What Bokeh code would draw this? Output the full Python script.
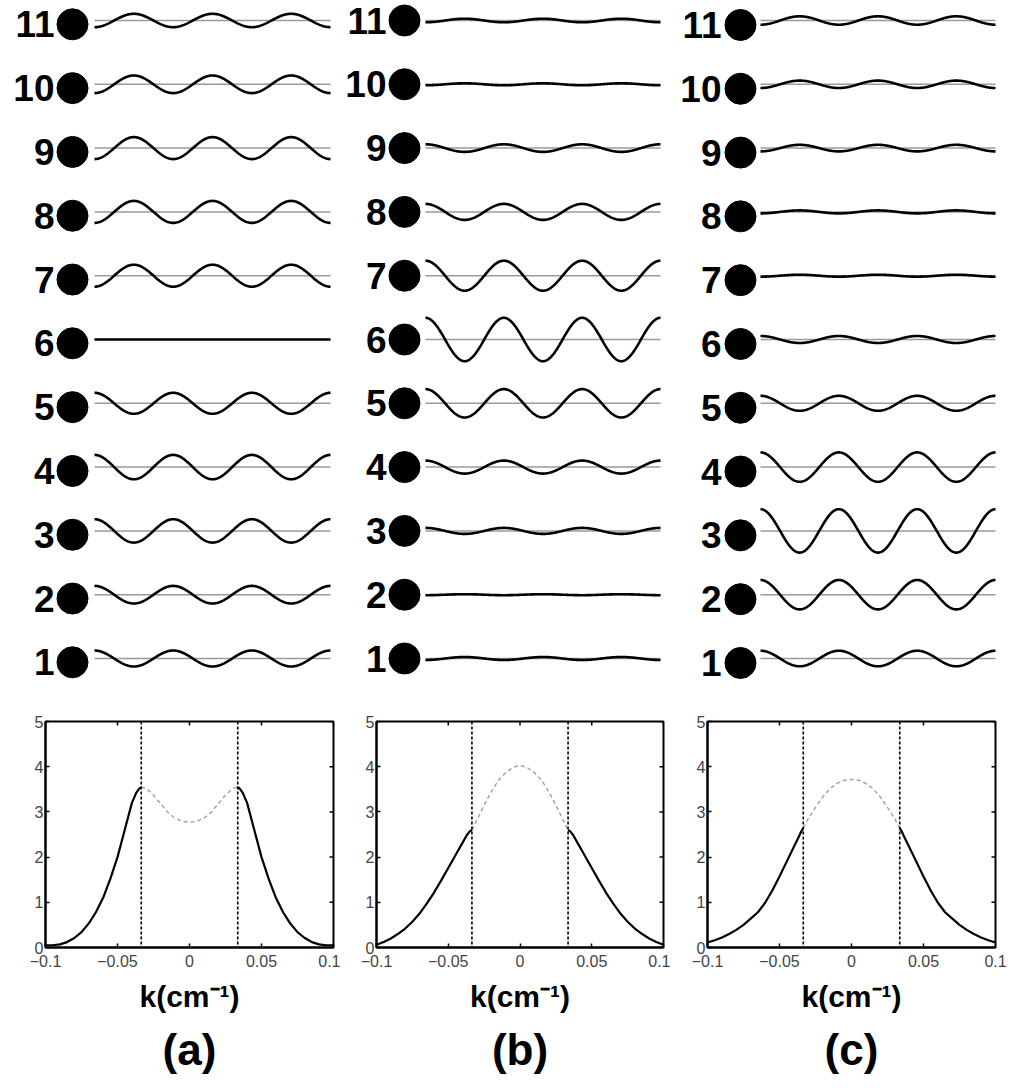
import numpy as np
from bokeh.plotting import figure
from bokeh.layouts import column, row
from bokeh.models import Range1d, Span, FixedTicker, Title
from bokeh.core.properties import value
from bokeh.embed import file_html
from bokeh.resources import INLINE

# ---------------- data ----------------
oscillators = [1, 2, 3, 4, 5, 6, 7, 8, 9, 10, 11]
# signed oscillation amplitudes per oscillator (+ : starts at a crest)
amp_a = [8.0, 8.8, 11.7, 12.2, 10.5, 0.0, -11.0, -11.0, -11.0, -8.8, -6.7]
amp_b = [-1.5, -0.5, 3.0, 6.5, 14.2, 21.7, 15.0, 8.0, 3.8, -1.0, -1.8]
amp_c = [7.8, 14.7, 21.7, 14.7, 7.5, 3.5, -1.0, -1.5, -3.3, -3.7, -4.2]
n_periods = 3

k_grid = [-0.1, -0.095, -0.09, -0.085, -0.08, -0.075, -0.07, -0.065, -0.06,
          -0.055, -0.05, -0.045, -0.04, -0.037, -0.035, -0.0335, -0.03, -0.025,
          -0.02, -0.015, -0.01, -0.005, 0.0, 0.005, 0.01, 0.015, 0.02, 0.025,
          0.03, 0.0335, 0.035, 0.037, 0.04, 0.045, 0.05, 0.055, 0.06, 0.065,
          0.07, 0.075, 0.08, 0.085, 0.09, 0.095, 0.1]
spec_a = [0.05, 0.05, 0.07, 0.12, 0.21, 0.34, 0.53, 0.78, 1.10, 1.52, 2.00,
          2.60, 3.20, 3.42, 3.51, 3.55, 3.52, 3.37, 3.18, 2.99, 2.86, 2.79,
          2.77, 2.79, 2.86, 2.99, 3.18, 3.37, 3.52, 3.55, 3.51, 3.42, 3.20,
          2.60, 2.00, 1.52, 1.10, 0.78, 0.53, 0.34, 0.21, 0.12, 0.07, 0.05, 0.05]
spec_b = [0.06, 0.12, 0.20, 0.30, 0.42, 0.57, 0.75, 0.97, 1.21, 1.48, 1.76,
          2.04, 2.32, 2.49, 2.57, 2.60, 2.82, 3.15, 3.45, 3.70, 3.87, 3.98,
          4.03, 3.98, 3.87, 3.70, 3.45, 3.15, 2.82, 2.60, 2.57, 2.49, 2.32,
          2.04, 1.76, 1.48, 1.21, 0.97, 0.75, 0.57, 0.42, 0.30, 0.20, 0.12, 0.06]
spec_c = [0.11, 0.16, 0.22, 0.30, 0.39, 0.50, 0.64, 0.78, 0.99, 1.26, 1.57,
          1.90, 2.23, 2.42, 2.56, 2.64, 2.85, 3.10, 3.33, 3.51, 3.63, 3.70,
          3.72, 3.70, 3.63, 3.51, 3.33, 3.10, 2.85, 2.64, 2.56, 2.42, 2.23,
          1.90, 1.57, 1.26, 0.99, 0.78, 0.64, 0.50, 0.39, 0.30, 0.22, 0.16, 0.11]
k_cut = 0.0335
x_ticks = [-0.1, -0.05, 0.0, 0.05, 0.1]
x_tick_labels = ["\u22120.1", "\u22120.05", "0", "0.05", "0.1"]
y_ticks = [0, 1, 2, 3, 4, 5]
panel_labels = ["(a)", "(b)", "(c)"]
x_title = "k(cm\u207b\u00b9)"

# ---------------- layout / style ----------------
FONT = "Liberation Sans"
W = 1010
TOP_H = 700
ROW_PX = 63.8
ROW1_FROM_BOTTOM = 42.0
AMP_SCALE = 1.0 / ROW_PX
BOT_H = 388
FRAME_H = 226
TICK_PX = 4

col_geo = [
    dict(x0=94, x1=330, dot_x=72, label_x=54, dot_dy=0.06),
    dict(x0=425, x1=660, dot_x=404, label_x=386, dot_dy=0.0),
    dict(x0=760, x1=995, dot_x=740, label_x=721, dot_dy=0.07),
]
amps = [amp_a, amp_b, amp_c]

y0 = 1 - ROW1_FROM_BOTTOM / ROW_PX
top = figure(width=W, height=TOP_H, x_range=Range1d(0, W),
             y_range=Range1d(y0, y0 + TOP_H / ROW_PX),
             output_backend="svg", toolbar_location=None,
             x_axis_location=None, y_axis_location=None, min_border=0)
top.grid.visible = False
top.outline_line_color = None

t = np.linspace(0, n_periods, 400)
for geo, amp in zip(col_geo, amps):
    n = len(oscillators)
    top.segment(x0=[geo["x0"]] * n, y0=oscillators, x1=[geo["x1"]] * n, y1=oscillators,
                line_color="#9a9a9a", line_width=1.5)
    xs = [list(geo["x0"] + (geo["x1"] - geo["x0"]) * t / n_periods) for _ in oscillators]
    ys = [list(r + a * AMP_SCALE * np.cos(2 * np.pi * t)) for r, a in zip(oscillators, amp)]
    top.multi_line(xs, ys, line_color="black", line_width=2.6)
    yd = [r - geo["dot_dy"] for r in oscillators]
    top.scatter(x=[geo["dot_x"]] * n, y=yd, size=31, color="black")
    top.text(x=[geo["label_x"]] * n, y=yd, text=[str(r) for r in oscillators],
             text_align="right", text_baseline="middle", text_font=value(FONT),
             text_font_style="bold", text_font_size="37px", text_color="black")


def spectrum_panel(spec, label, width, bl, br):
    frame_w = width - bl - br
    p = figure(width=width, height=BOT_H, x_range=Range1d(-0.1, 0.1), y_range=Range1d(0, 5),
               output_backend="svg", toolbar_location=None,
               min_border_left=bl, min_border_right=br, min_border_top=21,
               min_border_bottom=BOT_H - 21 - FRAME_H)
    p.grid.visible = False
    p.outline_line_color = "black"
    p.outline_line_width = 2

    k = np.array(k_grid)
    s = np.array(spec)
    eps = 1e-9
    mid = np.abs(k) <= k_cut + eps
    left = k <= -k_cut + eps
    right = k >= k_cut - eps
    p.line(k[mid], s[mid], line_color="#a0a0a0", line_width=1.4, line_dash="4 3")
    p.multi_line([list(k[left]), list(k[right])], [list(s[left]), list(s[right])],
                 line_color="black", line_width=2.2)
    for loc in (-k_cut, k_cut):
        p.add_layout(Span(location=loc, dimension="height", line_color="black",
                          line_width=1.6, line_dash="3 2"))

    # inward ticks on the top and right edges of the box
    dy = TICK_PX * 5.0 / FRAME_H
    dx = TICK_PX * 0.2 / frame_w
    p.segment(x0=x_ticks, y0=[5] * len(x_ticks), x1=x_ticks, y1=[5 - dy] * len(x_ticks),
              line_color="black", line_width=1.5)
    p.segment(x0=[0.1] * len(y_ticks), y0=y_ticks, x1=[0.1 - dx] * len(y_ticks), y1=y_ticks,
              line_color="black", line_width=1.5)

    xa = p.xaxis[0]
    xa.ticker = FixedTicker(ticks=x_ticks)
    xa.major_label_overrides = dict(zip(x_ticks, x_tick_labels))
    ya = p.yaxis[0]
    ya.ticker = FixedTicker(ticks=y_ticks)
    for ax in (xa, ya):
        ax.axis_line_width = 2
        ax.major_tick_in = TICK_PX
        ax.major_tick_out = 0
        ax.major_tick_line_width = 1.5
        ax.minor_tick_line_color = None
        ax.major_label_text_font = FONT
        ax.major_label_text_font_size = "16px"
        ax.major_label_text_color = "#444444"
    xa.major_label_standoff = 7
    ya.major_label_standoff = 2
    xa.axis_label = x_title
    xa.axis_label_text_font = FONT
    xa.axis_label_text_font_style = "bold"
    xa.axis_label_text_font_size = "30px"
    xa.axis_label_text_color = "black"
    xa.axis_label_standoff = 10

    p.add_layout(Title(text=label, align="center", text_font=FONT, text_font_style="bold",
                       text_font_size="44px", text_color="black", standoff=14), "below")
    return p


pa = spectrum_panel(spec_a, panel_labels[0], 340, 45, 7)
pb = spectrum_panel(spec_b, panel_labels[1], 330, 36, 7)
pc = spectrum_panel(spec_c, panel_labels[2], 340, 37, 15)

layout = column(top, row(pa, pb, pc, spacing=0), spacing=0)
open("out.html", "w").write(file_html(layout, INLINE))
